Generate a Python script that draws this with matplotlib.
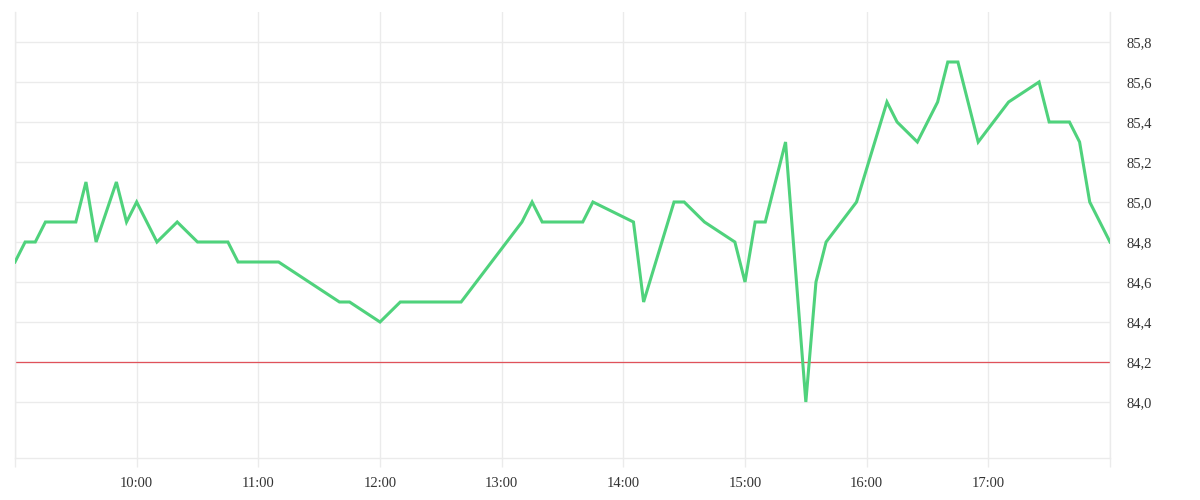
import matplotlib
matplotlib.use("Agg")
import matplotlib.pyplot as plt
from matplotlib.ticker import FuncFormatter

# intraday price series (time of quote, price)
times = ["09:00", "09:05", "09:10", "09:15", "09:30", "09:35", "09:40", "09:50", "09:55",
         "10:00", "10:10", "10:20", "10:30", "10:45", "10:50", "11:10", "11:40", "11:45",
         "12:00", "12:10", "12:40", "13:10", "13:15", "13:20", "13:40", "13:45", "14:05",
         "14:10", "14:25", "14:30", "14:40", "14:55", "15:00", "15:05", "15:10", "15:20",
         "15:30", "15:35", "15:40", "15:55", "16:10", "16:15", "16:25", "16:35", "16:40",
         "16:45", "16:55", "17:10", "17:25", "17:30", "17:40", "17:45", "17:50", "18:00"]
prices = [84.7, 84.8, 84.8, 84.9, 84.9, 85.1, 84.8, 85.1, 84.9,
          85.0, 84.8, 84.9, 84.8, 84.8, 84.7, 84.7, 84.5, 84.5,
          84.4, 84.5, 84.5, 84.9, 85.0, 84.9, 84.9, 85.0, 84.9,
          84.5, 85.0, 85.0, 84.9, 84.8, 84.6, 84.9, 84.9, 85.3,
          84.0, 84.6, 84.8, 85.0, 85.5, 85.4, 85.3, 85.5, 85.7,
          85.7, 85.3, 85.5, 85.6, 85.4, 85.4, 85.3, 85.0, 84.8]
prev_close = 84.2

hour_ticks = list(range(9, 19))
hour_labels = ["", "10:00", "11:00", "12:00", "13:00", "14:00", "15:00", "16:00", "17:00", ""]
price_ticks = [84.0, 84.2, 84.4, 84.6, 84.8, 85.0, 85.2, 85.4, 85.6, 85.8]


def to_hours(s):
    h, m = s.split(":")
    return int(h) + int(m) / 60


x = [to_hours(t) for t in times]

grid_col = "#ebebeb"
text_col = "#333333"

fig = plt.figure(figsize=(12, 5), dpi=100)
ax = fig.add_axes([0.0125, 0.084, 0.9125, 0.892])

ax.plot(x, prices, color="#4fd27c", linewidth=2.2, solid_joinstyle="miter", zorder=3)
ax.axhline(prev_close, color="#e0525a", linewidth=0.9, zorder=2)

ax.set_xlim(9, 18)
ax.set_ylim(83.72, 85.95)

ax.set_xticks(hour_ticks)
ax.set_xticklabels(hour_labels)
ax.set_yticks(price_ticks)
ax.yaxis.set_major_formatter(FuncFormatter(lambda v, p: f"{v:.1f}".replace(".", ",")))
ax.yaxis.tick_right()

ax.grid(True, color=grid_col, linewidth=1, zorder=0)
ax.tick_params(axis="x", length=6.5, width=1, color=grid_col, pad=7,
               labelsize=10.5, labelcolor=text_col)
ax.tick_params(axis="y", length=0, pad=12, labelsize=10.5, labelcolor=text_col)
for lab in ax.get_xticklabels() + ax.get_yticklabels():
    lab.set_fontfamily("Liberation Serif")

ax.spines["top"].set_visible(False)
for side in ["left", "right", "bottom"]:
    ax.spines[side].set_color(grid_col)
    ax.spines[side].set_linewidth(1)

fig.savefig("out.png", dpi=100)
